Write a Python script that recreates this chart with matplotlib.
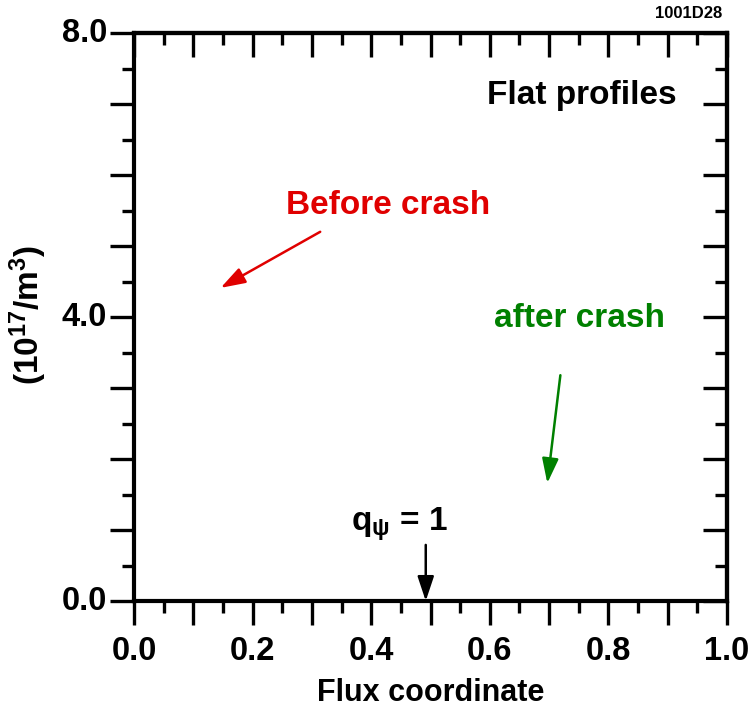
import matplotlib
matplotlib.use("Agg")
import matplotlib.pyplot as plt
from matplotlib.ticker import MultipleLocator

plt.rcParams['font.family'] = ['Liberation Sans', 'DejaVu Sans']
plt.rcParams['font.weight'] = 'bold'
plt.rcParams['mathtext.fontset'] = 'custom'
plt.rcParams['mathtext.rm'] = 'Liberation Sans:bold'
plt.rcParams['mathtext.bf'] = 'Liberation Sans:bold'
plt.rcParams['mathtext.it'] = 'Liberation Sans'

# axis ranges and labelled ticks
x_range = [0.0, 1.0]
y_range = [0.0, 8.0]
x_ticklabels = [0.0, 0.2, 0.4, 0.6, 0.8, 1.0]
y_ticklabels = [0.0, 4.0, 8.0]

# annotations: text, text position, arrow tail, arrow head, colour
notes = [
    ("Before crash", (0.428, 5.57), (0.314, 5.20), (0.146, 4.41), "#e00000"),
    ("after crash", (0.751, 3.98), (0.719, 3.18), (0.697, 1.66), "#008000"),
    (r"q$_\psi$ = 1", (0.448, 1.08), (0.492, 0.79), (0.492, 0.0), "black"),
]

fig = plt.figure(figsize=(7.52, 7.15), dpi=100)
ax = fig.add_axes([134 / 752, 1 - 601 / 715, 593 / 752, 568 / 715])
ax.set_xlim(x_range)
ax.set_ylim(y_range)

for s in ax.spines.values():
    s.set_linewidth(3)

# left / bottom: outward ticks, labels drawn by hand below
ax.xaxis.set_major_locator(MultipleLocator(0.1))
ax.xaxis.set_minor_locator(MultipleLocator(0.05))
ax.yaxis.set_major_locator(MultipleLocator(1.0))
ax.yaxis.set_minor_locator(MultipleLocator(0.5))
ax.set_xticklabels([])
ax.set_yticklabels([])
ax.tick_params(which='major', direction='out', length=17, width=2.4)
ax.tick_params(which='minor', direction='out', length=8.5, width=2.4)

for v in x_ticklabels:
    ax.text(v, -0.50, f"{v:.1f}", ha='center', va='top', fontsize=23.5,
            fontweight='bold', clip_on=False)
for v in y_ticklabels:
    ax.text(-0.045, v, f"{v:.1f}", ha='right', va='center', fontsize=23.5,
            fontweight='bold', clip_on=False)

# top / right: same ticks, pointing inward
top = ax.secondary_xaxis('top')
top.xaxis.set_major_locator(MultipleLocator(0.1))
top.xaxis.set_minor_locator(MultipleLocator(0.05))
top.set_xticklabels([])
top.tick_params(which='major', direction='in', length=17, width=2.4)
top.tick_params(which='minor', direction='in', length=8.5, width=2.4)
top.spines['top'].set_linewidth(3)

right = ax.secondary_yaxis('right')
right.yaxis.set_major_locator(MultipleLocator(1.0))
right.yaxis.set_minor_locator(MultipleLocator(0.5))
right.set_yticklabels([])
right.tick_params(which='major', direction='in', length=17, width=2.4)
right.tick_params(which='minor', direction='in', length=8.5, width=2.4)
right.spines['right'].set_linewidth(3)

ax.set_xlabel("Flux coordinate", fontsize=22, fontweight='bold')
ax.xaxis.set_label_coords(0.5, -0.135)
fig.text(28 / 752, 1 - 315 / 715, r"(10$^{17}$/m$^{3}$)", rotation=90,
         ha='center', va='center', fontsize=24, fontweight='bold')

ax.text(0.915, 7.12, "Flat profiles", ha='right', va='center', fontsize=24,
        fontweight='bold')
fig.text(722 / 752, 1 - 14 / 715, "1001D28", ha='right', va='center',
         fontsize=12, fontweight='bold')

for label, pos, tail, head, col in notes:
    ax.text(pos[0], pos[1], label, ha='center', va='center', fontsize=24,
            fontweight='bold', color=col)
    ax.annotate("", xy=head, xytext=tail,
                arrowprops=dict(arrowstyle="-|>,head_length=1.5,head_width=0.5",
                                color=col, lw=1.8, shrinkA=0, shrinkB=0))

fig.savefig("out.png", dpi=100)
